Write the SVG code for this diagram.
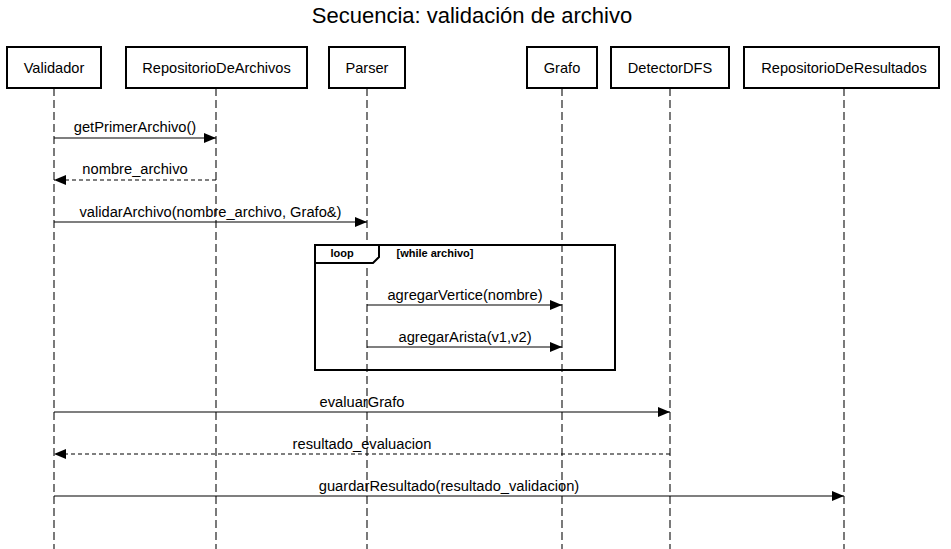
<svg xmlns="http://www.w3.org/2000/svg" width="951" height="549" viewBox="0 0 951 549">
<style>
text{font-family:"Liberation Sans",Arial,sans-serif;fill:#000}
.actor rect{fill:#fff;stroke:#000;stroke-width:2}
.actor text{font-size:14.6px;text-anchor:middle;dominant-baseline:central}
.life{stroke:#333;stroke-width:1.3;stroke-dasharray:8,4;fill:none}
.msg{stroke:#000;stroke-width:1.2;fill:none}
.ret{stroke-dasharray:4,3}
.lbl{font-size:14.7px;text-anchor:middle}
.loopbox{fill:none;stroke:#000;stroke-width:2}
.looptxt{font-size:11px;font-weight:bold}
</style>
<defs>
<marker id="ah" viewBox="0 0 12 10" refX="12" refY="5" markerWidth="12" markerHeight="10" markerUnits="userSpaceOnUse" orient="auto">
<path d="M0,0 L12,5 L0,10 Z" fill="#000"/>
</marker>
</defs>
<text x="472" y="23" font-size="22" text-anchor="middle">Secuencia: validación de archivo</text>
<g id="lifelines">
<line class="life" x1="54" y1="88" x2="54" y2="549"/>
<line class="life" x1="216" y1="88" x2="216" y2="549"/>
<line class="life" x1="367" y1="88" x2="367" y2="549"/>
<line class="life" x1="562" y1="88" x2="562" y2="549"/>
<line class="life" x1="670" y1="88" x2="670" y2="549"/>
<line class="life" x1="844" y1="88" x2="844" y2="549"/>
</g>
<g id="Validador" class="actor"><rect x="7" y="47" width="94" height="41"/><text x="54" y="68">Validador</text></g>
<g id="RepositorioDeArchivos" class="actor"><rect x="126" y="47" width="181" height="41"/><text x="216.5" y="68">RepositorioDeArchivos</text></g>
<g id="Parser" class="actor"><rect x="329" y="47" width="76" height="41"/><text x="367" y="68">Parser</text></g>
<g id="Grafo" class="actor"><rect x="527" y="47" width="70" height="41"/><text x="562" y="68">Grafo</text></g>
<g id="DetectorDFS" class="actor"><rect x="611" y="47" width="118" height="41"/><text x="670" y="68">DetectorDFS</text></g>
<g id="RepositorioDeResultados" class="actor"><rect x="744" y="47" width="195" height="41"/><text x="844" y="68">RepositorioDeResultados</text></g>
<g id="loop">
<rect class="loopbox" x="315" y="245" width="300" height="125"/>
<path d="M315,245 L379,245 L379,257 L373,263 L315,263 Z" fill="#fff" stroke="#000" stroke-width="2"/>
<text class="looptxt" x="342" y="257" text-anchor="middle">loop</text>
<text class="looptxt" x="435" y="257" text-anchor="middle">[while archivo]</text>
</g>
<g id="connectors">
<line class="msg" x1="54" y1="138" x2="216" y2="138" marker-end="url(#ah)"/>
<text class="lbl" x="135" y="132">getPrimerArchivo()</text>
<line class="msg ret" x1="216" y1="180" x2="54" y2="180" marker-end="url(#ah)"/>
<text class="lbl" x="135" y="174">nombre_archivo</text>
<line class="msg" x1="54" y1="222" x2="367" y2="222" marker-end="url(#ah)"/>
<text class="lbl" x="210.5" y="217">validarArchivo(nombre_archivo, Grafo&amp;)</text>
<line class="msg" x1="367" y1="305" x2="562" y2="305" marker-end="url(#ah)"/>
<text class="lbl" x="465" y="300">agregarVertice(nombre)</text>
<line class="msg" x1="367" y1="347" x2="562" y2="347" marker-end="url(#ah)"/>
<text class="lbl" x="465" y="342">agregarArista(v1,v2)</text>
<line class="msg" x1="54" y1="412" x2="670" y2="412" marker-end="url(#ah)"/>
<text class="lbl" x="362" y="407">evaluarGrafo</text>
<line class="msg ret" x1="670" y1="454" x2="54" y2="454" marker-end="url(#ah)"/>
<text class="lbl" x="362" y="449">resultado_evaluacion</text>
<line class="msg" x1="54" y1="496" x2="844" y2="496" marker-end="url(#ah)"/>
<text class="lbl" x="449" y="491">guardarResultado(resultado_validacion)</text>
</g>
</svg>
